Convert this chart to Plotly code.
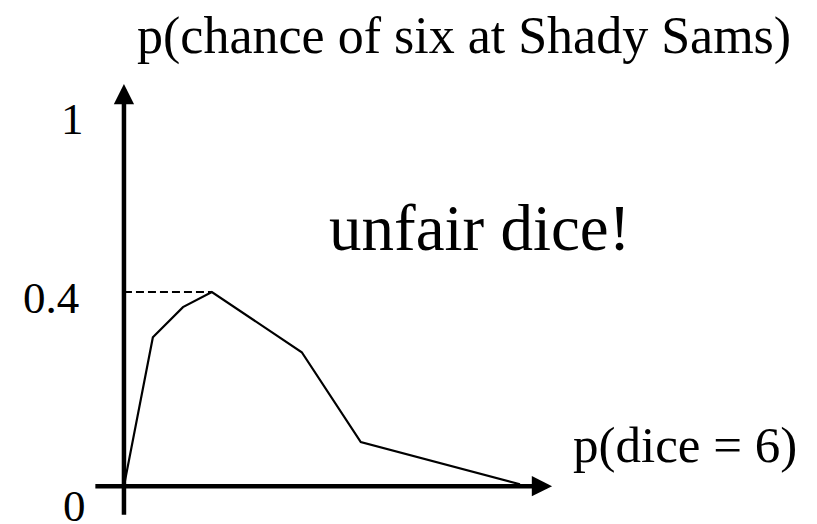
import plotly.graph_objects as go

# curve: p(chance of six at Shady Sams) against p(dice = 6)
p_dice = [0.0, 0.073, 0.149, 0.222, 0.449, 0.598, 1.0]
p_six = [0.0, 0.307, 0.369, 0.4, 0.276, 0.091, 0.004]

peak_x = 0.222
peak_y = 0.4

y_tick_text = ["1", "0.4", "0"]

FONT = "Liberation Serif, Times New Roman, serif"

fig = go.Figure()

fig.add_trace(go.Scatter(
    x=p_dice,
    y=p_six,
    mode="lines",
    line=dict(color="black", width=2.2),
    showlegend=False,
    hoverinfo="skip"
))

# dashed guide from the y axis to the peak
fig.add_trace(go.Scatter(
    x=[0, peak_x],
    y=[peak_y, peak_y],
    mode="lines",
    line=dict(color="black", width=2, dash="8px,4px"),
    showlegend=False,
    hoverinfo="skip"
))

annotations = []

# axes drawn as arrows
annotations.append(dict(
    x=1.081, y=0, ax=-0.076, ay=0,
    xref="x", yref="y", axref="x", ayref="y",
    showarrow=True, arrowhead=2, arrowsize=0.9, arrowwidth=4.5,
    arrowcolor="black", text=""
))
annotations.append(dict(
    x=0, y=0.829, ax=0, ay=-0.062,
    xref="x", yref="y", axref="x", ayref="y",
    showarrow=True, arrowhead=2, arrowsize=0.9, arrowwidth=4.5,
    arrowcolor="black", text=""
))

# tick labels (the drawing is not to scale, so placed by hand)
tick_pos = [(-0.097, 0.757), (-0.109, 0.388), (-0.091, -0.040)]
for txt, (tx, ty) in zip(y_tick_text, tick_pos):
    annotations.append(dict(
        x=tx, y=ty, xref="x", yref="y", text=txt, showarrow=False,
        xanchor="right", yanchor="middle",
        font=dict(family=FONT, size=45, color="black")
    ))

annotations.append(dict(
    x=0.568, y=0.931, xref="paper", yref="paper",
    text="p(chance of six at Shady Sams)", showarrow=False,
    xanchor="center", yanchor="middle",
    font=dict(family=FONT, size=52, color="black")
))
annotations.append(dict(
    x=0.587, y=0.565, xref="paper", yref="paper",
    text="unfair dice!", showarrow=False,
    xanchor="center", yanchor="middle",
    font=dict(family=FONT, size=65, color="black")
))
annotations.append(dict(
    x=0.838, y=0.151, xref="paper", yref="paper",
    text="p(dice = 6)", showarrow=False,
    xanchor="center", yanchor="middle",
    font=dict(family=FONT, size=51, color="black")
))

fig.update_layout(
    width=817,
    height=524,
    margin=dict(l=0, r=0, t=0, b=0),
    paper_bgcolor="white",
    plot_bgcolor="white",
    xaxis=dict(range=[-0.313, 1.75], visible=False, fixedrange=True),
    yaxis=dict(range=[-0.078, 1.002], visible=False, fixedrange=True),
    annotations=annotations
)

# drop the page's default body margin so the figure fills the window
fig.write_html(
    "out.html",
    config={"displayModeBar": False},
    post_script="document.body.style.margin='0';"
)
